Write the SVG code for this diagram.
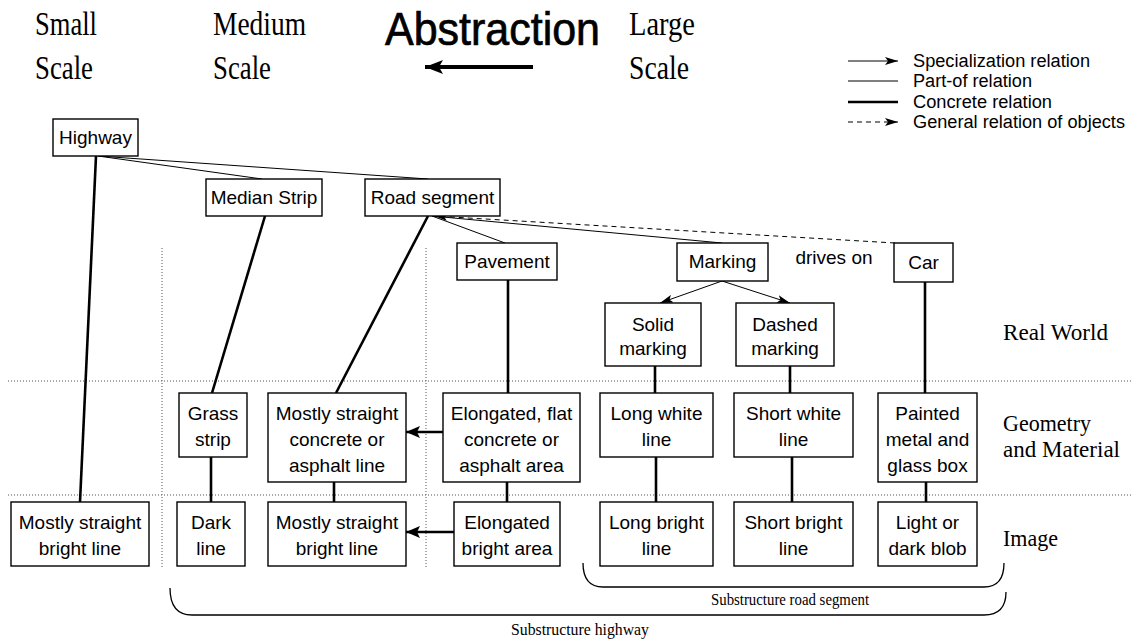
<svg xmlns="http://www.w3.org/2000/svg" width="1132" height="639" viewBox="0 0 1132 639">
<style>
.bg{fill:#fff}
.box{fill:#fff;stroke:#000;stroke-width:1.4}
.t{font-family:"Liberation Sans",Arial,sans-serif;font-size:19px;fill:#000;text-anchor:middle}
.lg{font-family:"Liberation Sans",Arial,sans-serif;font-size:18px;fill:#000}
.sr{font-family:"Liberation Serif","Times New Roman",serif;fill:#000}
.part{stroke:#000;stroke-width:1;fill:none}
.conc{stroke:#000;stroke-width:2.6;fill:none}
.spec{stroke:#000;stroke-width:1;fill:none;marker-end:url(#sp)}
.gen{stroke:#000;stroke-width:1;fill:none;stroke-dasharray:5 4;marker-end:url(#sp)}
.dot{stroke:#555;stroke-width:1;fill:none;stroke-dasharray:1 2}
.brace{stroke:#000;stroke-width:1.3;fill:none}
</style>
<defs>
<marker id="sp" viewBox="0 0 13 8" refX="13" refY="4" markerWidth="13" markerHeight="8" markerUnits="userSpaceOnUse" orient="auto"><path d="M0,0 L13,4 L0,8 L3,4 z" fill="#000"/></marker>
<marker id="big" viewBox="0 0 14 12" refX="14" refY="6" markerWidth="14" markerHeight="12" markerUnits="userSpaceOnUse" orient="auto"><path d="M0,0 L14,6 L0,12 L3,6 z" fill="#000"/></marker>
<marker id="hdr" viewBox="0 0 18 14" refX="18" refY="7" markerWidth="18" markerHeight="14" markerUnits="userSpaceOnUse" orient="auto"><path d="M0,0 L18,7 L0,14 L4,7 z" fill="#000"/></marker>
</defs>
<rect class="bg" x="0" y="0" width="1132" height="639"/>

<g id="header">
<text class="sr" x="35" y="35" font-size="33" textLength="62" lengthAdjust="spacingAndGlyphs">Small</text>
<text class="sr" x="35" y="79" font-size="33" textLength="58" lengthAdjust="spacingAndGlyphs">Scale</text>
<text class="sr" x="213" y="35" font-size="33" textLength="93" lengthAdjust="spacingAndGlyphs">Medium</text>
<text class="sr" x="213" y="79" font-size="33" textLength="58" lengthAdjust="spacingAndGlyphs">Scale</text>
<text x="385" y="45" font-family="'Liberation Sans',Arial,sans-serif" font-size="46" stroke="#000" stroke-width="0.7" textLength="215" lengthAdjust="spacingAndGlyphs">Abstraction</text>
<line x1="533" y1="67" x2="425" y2="67" stroke="#000" stroke-width="4" marker-end="url(#hdr)"/>
<text class="sr" x="629" y="35" font-size="33" textLength="66" lengthAdjust="spacingAndGlyphs">Large</text>
<text class="sr" x="629" y="79" font-size="33" textLength="60" lengthAdjust="spacingAndGlyphs">Scale</text>
</g>

<g id="legend">
<line x1="848" y1="61" x2="898" y2="61" class="spec"/>
<text class="lg" x="913" y="67" textLength="177" lengthAdjust="spacingAndGlyphs">Specialization relation</text>
<line x1="848" y1="81" x2="898" y2="81" class="part"/>
<text class="lg" x="913" y="87" textLength="119" lengthAdjust="spacingAndGlyphs">Part-of relation</text>
<line x1="848" y1="102" x2="898" y2="102" class="conc"/>
<text class="lg" x="913" y="108" textLength="139" lengthAdjust="spacingAndGlyphs">Concrete relation</text>
<line x1="848" y1="122" x2="898" y2="122" class="gen"/>
<text class="lg" x="913" y="128" textLength="212" lengthAdjust="spacingAndGlyphs">General relation of objects</text>
</g>

<g id="gridlines">
<line x1="8" y1="381" x2="1132" y2="381" class="dot"/>
<line x1="8" y1="495" x2="1132" y2="495" class="dot"/>
<line x1="162" y1="248" x2="162" y2="568" class="dot"/>
<line x1="426" y1="248" x2="426" y2="568" class="dot"/>
</g>

<g id="connectors">
<line x1="98" y1="156" x2="262" y2="179" class="part"/>
<line x1="98" y1="156" x2="428" y2="179" class="part"/>
<line x1="96" y1="156" x2="80" y2="502" class="conc"/>
<line x1="265" y1="216" x2="212" y2="393" class="conc"/>
<line x1="428" y1="216" x2="336" y2="393" class="conc"/>
<line x1="432" y1="216" x2="505" y2="243" class="part"/>
<line x1="432" y1="216" x2="722" y2="243" class="part"/>
<line x1="895" y1="243" x2="434" y2="216" class="gen"/>
<line x1="722" y1="281" x2="660" y2="303" class="spec"/>
<line x1="722" y1="281" x2="790" y2="303" class="spec"/>
<line x1="508" y1="280" x2="508" y2="393" class="conc"/>
<line x1="925" y1="282" x2="925" y2="393" class="conc"/>
<line x1="655" y1="366" x2="655" y2="393" class="conc"/>
<line x1="790" y1="366" x2="790" y2="393" class="conc"/>
<line x1="211" y1="457" x2="211" y2="502" class="conc"/>
<line x1="334" y1="482" x2="334" y2="502" class="conc"/>
<line x1="507" y1="482" x2="507" y2="502" class="conc"/>
<line x1="656" y1="457" x2="656" y2="502" class="conc"/>
<line x1="792" y1="457" x2="792" y2="502" class="conc"/>
<line x1="926" y1="482" x2="926" y2="502" class="conc"/>
<line x1="443" y1="432" x2="406" y2="432" class="conc" marker-end="url(#big)"/>
<line x1="454" y1="532" x2="406" y2="532" class="conc" marker-end="url(#big)"/>
</g>

<g id="n-highway"><rect class="box" x="53" y="119" width="85" height="37"/><text class="t" x="95.5" y="144">Highway</text></g>
<g id="n-median"><rect class="box" x="206" y="179" width="116" height="37"/><text class="t" x="264" y="204">Median Strip</text></g>
<g id="n-road"><rect class="box" x="365" y="179" width="135" height="37"/><text class="t" x="432.5" y="204">Road segment</text></g>
<g id="n-pavement"><rect class="box" x="457" y="243" width="100" height="37"/><text class="t" x="507" y="268">Pavement</text></g>
<g id="n-marking"><rect class="box" x="677" y="243" width="91" height="38"/><text class="t" x="722.5" y="268">Marking</text></g>
<text class="t" x="834" y="264">drives on</text>
<g id="n-car"><rect class="box" x="894" y="243" width="59" height="39"/><text class="t" x="923.5" y="269">Car</text></g>
<g id="n-solid"><rect class="box" x="605" y="303" width="96" height="63"/><text class="t" x="653" y="331">Solid</text><text class="t" x="653" y="355">marking</text></g>
<g id="n-dashed"><rect class="box" x="736" y="303" width="98" height="63"/><text class="t" x="785" y="331">Dashed</text><text class="t" x="785" y="355">marking</text></g>

<g id="n-grass"><rect class="box" x="179" y="393" width="68" height="64"/><text class="t" x="213" y="420">Grass</text><text class="t" x="213" y="446">strip</text></g>
<g id="n-concrete"><rect class="box" x="268" y="393" width="138" height="89"/><text class="t" x="337" y="420">Mostly straight</text><text class="t" x="337" y="446">concrete or</text><text class="t" x="337" y="472">asphalt line</text></g>
<g id="n-elongflat"><rect class="box" x="443" y="393" width="137" height="89"/><text class="t" x="511.5" y="420">Elongated, flat</text><text class="t" x="511.5" y="446">concrete or</text><text class="t" x="511.5" y="472">asphalt area</text></g>
<g id="n-longwhite"><rect class="box" x="600" y="393" width="113" height="64"/><text class="t" x="656.5" y="420">Long white</text><text class="t" x="656.5" y="446">line</text></g>
<g id="n-shortwhite"><rect class="box" x="734" y="393" width="119" height="64"/><text class="t" x="793.5" y="420">Short white</text><text class="t" x="793.5" y="446">line</text></g>
<g id="n-painted"><rect class="box" x="878" y="393" width="99" height="89"/><text class="t" x="927.5" y="420">Painted</text><text class="t" x="927.5" y="446">metal and</text><text class="t" x="927.5" y="472">glass box</text></g>

<g id="n-msbl1"><rect class="box" x="11" y="502" width="138" height="64"/><text class="t" x="80" y="529">Mostly straight</text><text class="t" x="80" y="555">bright line</text></g>
<g id="n-dark"><rect class="box" x="177" y="502" width="68" height="64"/><text class="t" x="211" y="529">Dark</text><text class="t" x="211" y="555">line</text></g>
<g id="n-msbl2"><rect class="box" x="268" y="502" width="138" height="64"/><text class="t" x="337" y="529">Mostly straight</text><text class="t" x="337" y="555">bright line</text></g>
<g id="n-elongbright"><rect class="box" x="454" y="502" width="106" height="64"/><text class="t" x="507" y="529">Elongated</text><text class="t" x="507" y="555">bright area</text></g>
<g id="n-longbright"><rect class="box" x="600" y="502" width="113" height="64"/><text class="t" x="656.5" y="529">Long bright</text><text class="t" x="656.5" y="555">line</text></g>
<g id="n-shortbright"><rect class="box" x="734" y="502" width="119" height="64"/><text class="t" x="793.5" y="529">Short bright</text><text class="t" x="793.5" y="555">line</text></g>
<g id="n-blob"><rect class="box" x="878" y="502" width="99" height="64"/><text class="t" x="927.5" y="529">Light or</text><text class="t" x="927.5" y="555">dark blob</text></g>

<g id="row-labels">
<text class="sr" x="1003" y="340" font-size="24" textLength="105" lengthAdjust="spacingAndGlyphs">Real World</text>
<text class="sr" x="1003" y="431" font-size="24" textLength="88" lengthAdjust="spacingAndGlyphs">Geometry</text>
<text class="sr" x="1003" y="457" font-size="24" textLength="117" lengthAdjust="spacingAndGlyphs">and Material</text>
<text class="sr" x="1003" y="546" font-size="24" textLength="55" lengthAdjust="spacingAndGlyphs">Image</text>
</g>

<g id="braces">
<path class="brace" d="M583,563 Q583,587 603,587 L984,587 Q1004,587 1004,563"/>
<text class="sr" x="790" y="605" font-size="17" text-anchor="middle" textLength="158" lengthAdjust="spacingAndGlyphs">Substructure road segment</text>
<path class="brace" d="M170,588 Q170,615 192,615 L984,615 Q1006,615 1006,592"/>
<text class="sr" x="580" y="635" font-size="17" text-anchor="middle" textLength="138" lengthAdjust="spacingAndGlyphs">Substructure highway</text>
</g>
</svg>
